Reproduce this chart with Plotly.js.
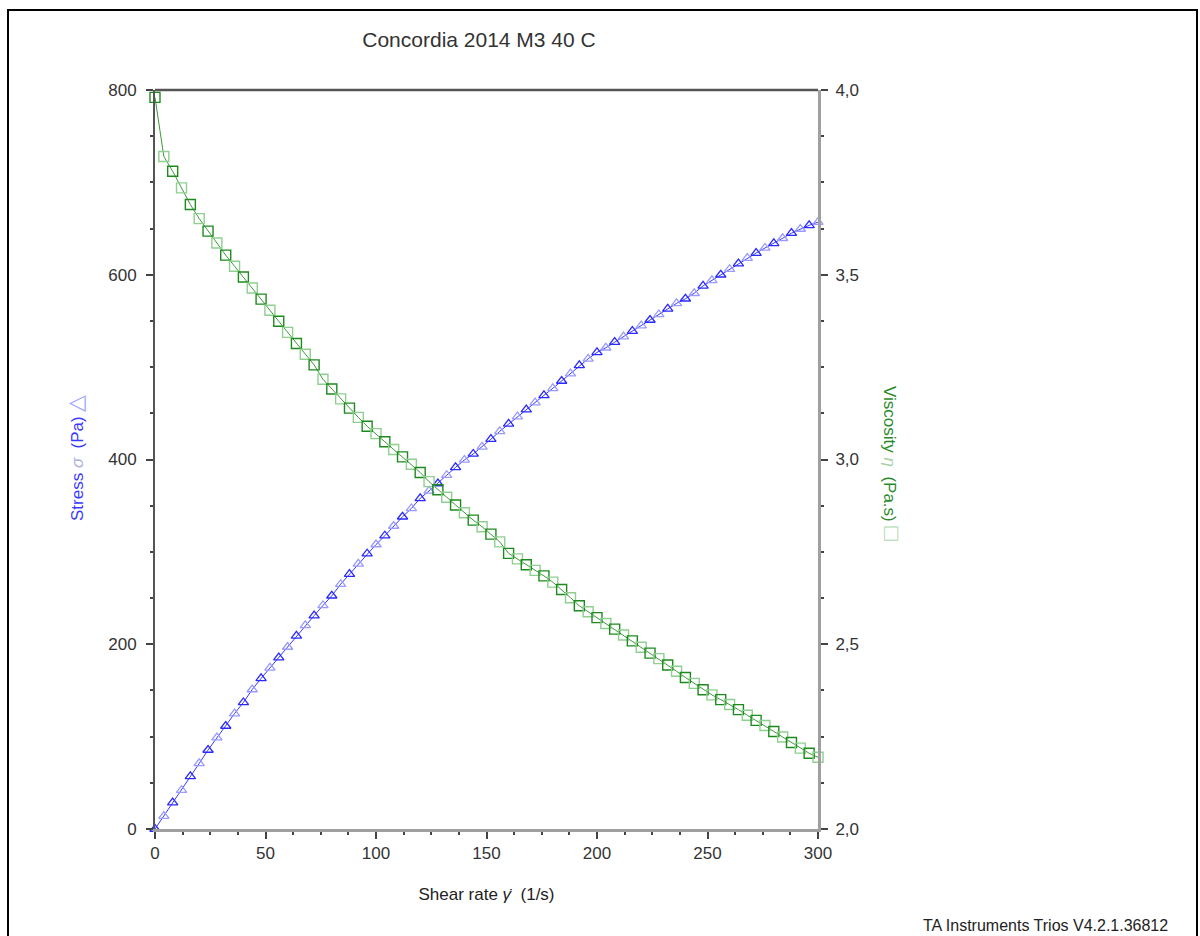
<!DOCTYPE html>
<html>
<head>
<meta charset="utf-8">
<script src="https://cdn.plot.ly/plotly-3.0.1.min.js"></script>
<style>html,body{margin:0;padding:0;background:#fff;}#chart{width:1200px;height:936px;}</style>
</head>
<body>
<div id="chart"></div>
<script>
// Shear rate (1/s)
const shearRate = [0,4,8,12,16,20,24,28,32,36,40,44,48,52,56,60,64,68,72,76,
  80,84,88,92,96,100,104,108,112,116,120,124,128,132,136,140,144,148,152,156,
  160,164,168,172,176,180,184,188,192,196,200,204,208,212,216,220,224,228,232,236,
  240,244,248,252,256,260,264,268,272,276,280,284,288,292,296,300];
// Stress (Pa)
const stress = [0,14,28.5,42,57,71,85.5,99,111.5,125,137,151,163,174.5,185.5,197,209,220.5,231,242,
  252.5,265,276,287,298,308,317.5,328,338,347,358,366,374,383,391.5,399.5,406,413.7,422,430.5,
  438.5,446.5,454,461.5,469.5,477,485,493,502,509,516,521,527,533,539,545,551,557,563,569,
  574,580,588,594,600,606,612,618,623.5,629,634,639.5,645,649.5,653.5,657];
// Viscosity (Pa.s)
const viscosity = [3.98,3.82,3.78,3.735,3.69,3.652,3.618,3.586,3.553,3.523,3.494,3.464,3.434,3.404,3.374,3.344,3.314,3.285,3.256,3.217,
  3.191,3.164,3.139,3.114,3.090,3.070,3.048,3.027,3.007,2.987,2.965,2.940,2.918,2.898,2.877,2.856,2.836,2.818,2.798,2.777,
  2.746,2.731,2.715,2.700,2.685,2.668,2.648,2.626,2.604,2.588,2.572,2.556,2.541,2.525,2.509,2.492,2.476,2.461,2.444,2.427,
  2.410,2.394,2.377,2.363,2.350,2.337,2.323,2.308,2.294,2.280,2.264,2.249,2.234,2.219,2.205,2.194];

const xTicks = [0,50,100,150,200,250,300];
const yTicks = [0,200,400,600,800];
const y2Ticks = [2.0,2.5,3.0,3.5,4.0];

const FONT = 'Liberation Sans, Arial, sans-serif';
const blueCols = shearRate.map((_, i) => i % 2 ? '#9a9aff' : '#2a2aff');
const greenCols = shearRate.map((_, i) => i % 2 ? '#8fcf8f' : '#1e8a1e');

const traces = [
  {
    x: shearRate, y: stress, type: 'scatter', mode: 'lines+markers',
    line: {color: '#3a3aff', width: 1},
    marker: {symbol: 'triangle-up-open', size: 9, color: blueCols, line: {width: 1.3}},
    yaxis: 'y', showlegend: false, cliponaxis: false
  },
  {
    x: shearRate, y: viscosity, type: 'scatter', mode: 'lines+markers',
    line: {color: '#3a9a3a', width: 1},
    marker: {symbol: 'square-open', size: 10, color: greenCols, line: {width: 1.4}},
    yaxis: 'y2', showlegend: false, cliponaxis: false
  }
];

const L = 155, R = 818, T = 90, B = 829;
const W = R - L, H = B - T;
const px = v => (v - L) / W;
const py = v => (B - v) / H;

const tickFont = {family: FONT, size: 17, color: '#333'};

const layout = {
  width: 1200, height: 936,
  margin: {l: L, r: 1200 - R, t: T, b: 936 - B},
  paper_bgcolor: '#ffffff', plot_bgcolor: '#ffffff',
  separators: ',.',
  font: {family: FONT, size: 17, color: '#333'},
  title: {text: 'Concordia 2014 M3 40 C', x: px(479), xref: 'paper', xanchor: 'center',
          y: 1 - 40 / 936, yanchor: 'middle', font: {family: FONT, size: 21, color: '#333'}},
  xaxis: {
    range: [0, 300], tickvals: xTicks, showgrid: false, zeroline: false,
    showline: true, linecolor: '#a0a0a0', linewidth: 3,
    ticks: 'outside', ticklen: 7, tickwidth: 2, tickcolor: '#444',
    minor: {dtick: 12.5, ticks: 'outside', ticklen: 3, tickwidth: 2, tickcolor: '#444'},
    tickfont: tickFont,
    title: {text: 'Shear rate <i>γ̇</i>  (1/s)', font: {family: FONT, size: 17, color: '#222'}, standoff: 26}
  },
  yaxis: {
    range: [0, 800], tickvals: yTicks, showgrid: false, zeroline: false,
    showline: true, linecolor: '#555', linewidth: 2,
    ticks: 'outside', ticklen: 7, tickwidth: 2, tickcolor: '#444',
    minor: {dtick: 50, ticks: 'outside', ticklen: 3, tickwidth: 2, tickcolor: '#444'},
    tickfont: tickFont, ticklabelstandoff: 6
  },
  yaxis2: {
    range: [2, 4], tickvals: y2Ticks, tickformat: '.1f', overlaying: 'y', side: 'right',
    showgrid: false, zeroline: false,
    showline: true, linecolor: '#a0a0a0', linewidth: 3,
    ticks: 'outside', ticklen: 7, tickwidth: 2, tickcolor: '#444',
    minor: {dtick: 0.125, ticks: 'outside', ticklen: 3, tickwidth: 2, tickcolor: '#444'},
    tickfont: tickFont, ticklabelstandoff: 4
  },
  shapes: [
    {type: 'line', xref: 'paper', yref: 'paper', x0: 0, x1: 1, y0: 1, y1: 1,
     line: {color: '#555', width: 2.5}},
    {type: 'rect', xref: 'paper', yref: 'paper', x0: px(8), x1: px(1197), y0: py(10), y1: py(945),
     line: {color: '#000', width: 2}, fillcolor: 'rgba(0,0,0,0)', layer: 'below'}
  ],
  annotations: [
    {text: 'Stress <i><span style="color:#aab0d8">σ</span></i>  (Pa) <span style="color:#a0a8ff;font-size:22px">△</span>',
     xref: 'paper', yref: 'paper', x: px(75), y: py(458), textangle: -90,
     showarrow: false, xanchor: 'center', yanchor: 'middle',
     font: {family: FONT, size: 17, color: '#3a3aff'}},
    {text: 'Viscosity <i><span style="color:#a8d0a8">η</span></i>  (Pa.s) <span style="color:#b0d8b0;font-size:24px">□</span>',
     xref: 'paper', yref: 'paper', x: px(893), y: py(463), textangle: 90,
     showarrow: false, xanchor: 'center', yanchor: 'middle',
     font: {family: FONT, size: 17, color: '#2a8a2a'}},
    {text: 'TA Instruments Trios V4.2.1.36812', xref: 'paper', yref: 'paper',
     x: px(1170), y: py(925), xanchor: 'right', yanchor: 'middle', showarrow: false,
     font: {family: FONT, size: 16, color: '#222'}}
  ]
};

Plotly.newPlot('chart', traces, layout, {displayModeBar: false, staticPlot: true});
</script>
</body>
</html>
